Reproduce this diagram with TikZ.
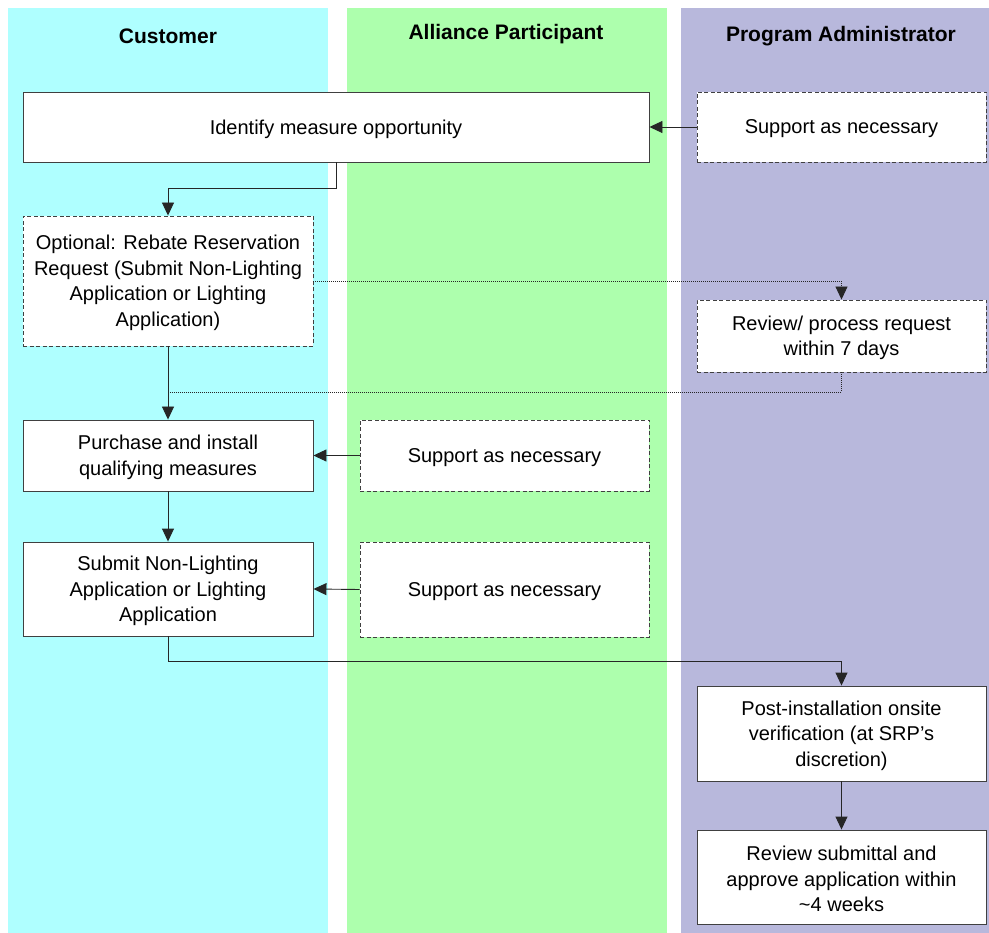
\documentclass[tikz,border=0pt]{standalone}
\usepackage{fontspec}
\setmainfont{Liberation Sans}
\usetikzlibrary{arrows.meta}
\definecolor{laneA}{RGB}{175,255,255}
\definecolor{laneB}{RGB}{173,255,173}
\definecolor{laneC}{RGB}{184,184,220}
\definecolor{edgegray}{RGB}{64,64,64}
\begin{document}
\begin{tikzpicture}[x=1pt,y=-1pt,
  every node/.style={font=\fontsize{20}{25.5}\selectfont},
  title/.style={font=\fontsize{21}{24}\selectfont\bfseries, anchor=center},
  box/.style={draw=edgegray, line width=0.9pt, fill=white, rectangle, inner sep=0pt, align=center},
  optbox/.style={box, dash pattern=on 4pt off 2.5pt},
  arr/.style={draw=black!85, line width=0.9pt, -{Triangle[length=13pt,width=12pt]}},
  dotarr/.style={arr, dash pattern=on 1pt off 1pt},
  dotline/.style={draw=black!85, line width=0.9pt, dash pattern=on 1pt off 1pt}
]
\useasboundingbox (0,0) rectangle (989,933);
% lanes
\fill[laneA] (8,8) rectangle (328,933);
\fill[laneB] (347,8) rectangle (667,933);
\fill[laneC] (681,8) rectangle (989,933);
\node[title] (t1) at (168,36) {Customer};
\node[title] (t2) at (506,34) {Alliance Participant};
\node[title] (t3) at (841,36) {Program Administrator};
% boxes
\tikzset{lbl/.style={yshift=-2pt}}
\node[box, minimum width=626pt, minimum height=70pt] (ident) at (336,127) {};
\node[lbl] (identt) at (ident) {Identify measure opportunity};
\node[optbox, minimum width=289pt, minimum height=70pt] (sup1) at (841.5,127) {};
\node[lbl] (sup1t) at (sup1) {Support as necessary};
\node[optbox, minimum width=290pt, minimum height=130pt] (opt) at (168,281) {};
\node[lbl, align=center] (optt) at (opt) {Optional: Rebate Reservation\\Request (Submit Non-Lighting\\Application or Lighting\\Application)};
\node[optbox, minimum width=289pt, minimum height=72pt] (rev1) at (841.5,336) {};
\node[lbl, align=center] (rev1t) at (rev1) {Review/ process request\\within 7 days};
\node[box, minimum width=290pt, minimum height=71pt] (purch) at (168,455.5) {};
\node[lbl, align=center] (purcht) at (purch) {Purchase and install\\qualifying measures};
\node[optbox, minimum width=289pt, minimum height=71pt] (sup2) at (504.5,455.5) {};
\node[lbl] (sup2t) at (sup2) {Support as necessary};
\node[box, minimum width=290pt, minimum height=94pt] (subm) at (168,589) {};
\node[lbl, align=center] (submt) at (subm) {Submit Non-Lighting\\Application or Lighting\\Application};
\node[optbox, minimum width=289pt, minimum height=95pt] (sup3) at (504.5,589.5) {};
\node[lbl] (sup3t) at (sup3) {Support as necessary};
\node[box, minimum width=289pt, minimum height=95pt] (post) at (841.5,733.5) {};
\node[lbl, align=center] (postt) at (post) {Post-installation onsite\\verification (at SRP's\\discretion)};
\node[box, minimum width=289pt, minimum height=94pt] (rev2) at (841.5,877) {};
\node[lbl, align=center] (rev2t) at (rev2) {Review submittal and\\approve application within\\\textasciitilde 4 weeks};
% connectors
\coordinate (m1) at (168,392);
\draw[arr] (sup1.west) -- (ident.east);
\draw[arr] (ident.south) -- ++(0,26) -| (opt.north);
\draw[dotarr] (opt.east) -| (rev1.north);
\draw[dotline] (rev1.south) |- (m1);
\draw[arr] (opt.south) -- (purch.north);
\draw[arr] (sup2.west) -- (purch.east);
\draw[arr] (purch.south) -- (subm.north);
\draw[arr] (sup3.west) -- (subm.east);
\draw[arr] (subm.south) -- ++(0,25) -| (post.north);
\draw[arr] (post.south) -- (rev2.north);
\end{tikzpicture}
\end{document}
